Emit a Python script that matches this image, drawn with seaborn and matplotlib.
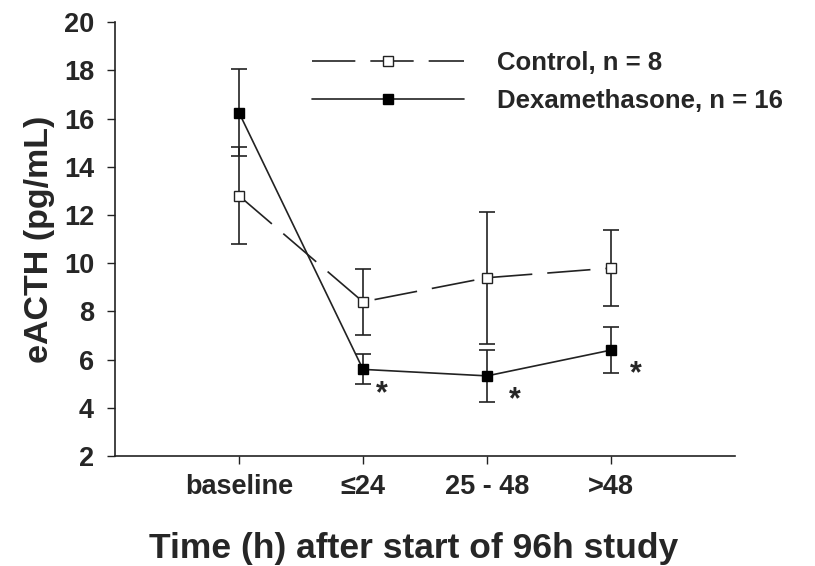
import matplotlib
matplotlib.use("Agg")
import matplotlib.pyplot as plt
import seaborn as sns
import pandas as pd
import numpy as np

categories = ["baseline", "\u226424", "25 - 48", ">48"]
control_mean = [12.8, 8.4, 9.4, 9.8]
control_sem = [2.0, 1.37, 2.74, 1.57]
dex_mean = [16.25, 5.6, 5.33, 6.4]
dex_sem = [1.8, 0.62, 1.08, 0.96]
star_idx = [1, 2, 3]
star_y = [4.55, 4.3, 5.4]
labels = ["Control, n = 8", "Dexamethasone, n = 16"]

sns.set_style("white")
plt.rcParams['font.family'] = ['Liberation Sans', 'DejaVu Sans']
plt.rcParams['font.weight'] = 'bold'

fig = plt.figure(figsize=(8.15, 5.66), dpi=100)
ax = fig.add_axes([0.141, 0.194, 0.761, 0.767])

pos = np.arange(len(categories))
df = pd.DataFrame({
    "x": np.concatenate([pos, pos]),
    "y": control_mean + dex_mean,
    "group": [labels[0]] * len(pos) + [labels[1]] * len(pos),
})

col = "#222222"
ax.errorbar(pos, control_mean, yerr=control_sem, fmt="none", ecolor=col,
            elinewidth=1.2, capsize=6, capthick=1.2, zorder=2)
ax.errorbar(pos, dex_mean, yerr=dex_sem, fmt="none", ecolor=col,
            elinewidth=1.2, capsize=6, capthick=1.2, zorder=2)

sns.lineplot(data=df, x="x", y="y", style="group", hue="group",
             palette={labels[0]: col, labels[1]: col},
             dashes={labels[0]: (26, 9), labels[1]: ""},
             markers={labels[0]: "s", labels[1]: "s"},
             markersize=7.5, linewidth=1.2, ax=ax, zorder=3, legend=False)

lines = ax.get_lines()
l_ctrl, l_dex = lines[-2], lines[-1]
l_ctrl.set_markerfacecolor("white")
l_ctrl.set_markeredgecolor(col)
l_ctrl.set_markeredgewidth(1.0)
l_dex.set_markerfacecolor("black")
l_dex.set_markeredgecolor("black")
l_dex.set_markeredgewidth(1.0)

star_dx = [0.15, 0.22, 0.2]
for i, yv, dx in zip(star_idx, star_y, star_dx):
    ax.text(pos[i] + dx, yv, "*", fontsize=22, fontweight="bold",
            ha="center", va="center")

ax.set_xlim(-1, 4)
ax.set_ylim(2, 20)
ax.set_yticks(np.arange(2, 21, 2))
ax.set_xticks(pos)
ax.set_xticklabels(categories)
for t in ax.get_xticklabels() + ax.get_yticklabels():
    t.set_fontsize(19.5)
    t.set_fontweight("bold")
ax.tick_params(axis="both", direction="out", length=6, width=1.0, color=col,
               bottom=True, left=True, pad=7)
ax.tick_params(axis="y", pad=9)
for s in ["top", "right"]:
    ax.spines[s].set_visible(False)
for s in ["left", "bottom"]:
    ax.spines[s].set_color(col)
    ax.spines[s].set_linewidth(1.2)

ax.set_xlabel("Time (h) after start of 96h study", fontsize=25.5,
              fontweight="bold", labelpad=22)
ax.xaxis.set_label_coords(0.482, -0.175)
ax.set_ylabel("eACTH (pg/mL)", fontsize=24.5, fontweight="bold", labelpad=6)

leg = ax.legend([l_ctrl, l_dex], labels, loc="upper left",
                bbox_to_anchor=(0.297, 0.963), frameon=False, fontsize=18.5,
                handlelength=5.9, handletextpad=1.3, labelspacing=0.55,
                borderpad=0, numpoints=1)
for t in leg.get_texts():
    t.set_fontweight("bold")

fig.savefig("out.png", dpi=100)
